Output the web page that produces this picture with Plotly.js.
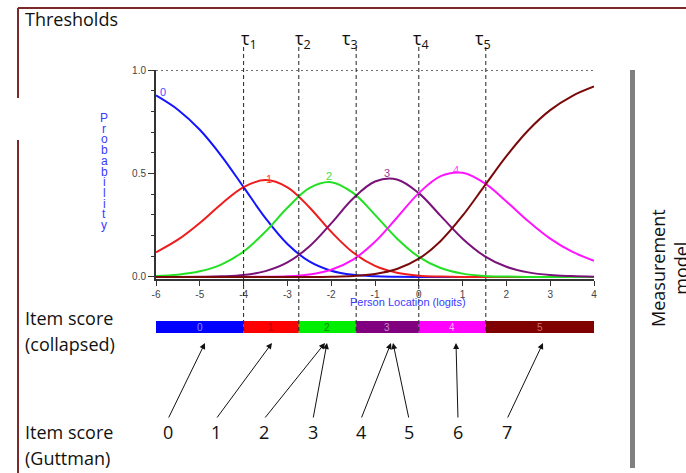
<!DOCTYPE html>
<html>
<head>
<meta charset="utf-8">
<script src="https://cdn.plot.ly/plotly-3.0.1.min.js"></script>
<style>html,body{margin:0;padding:0;background:#fff;}#chart{width:686px;height:473px;}</style>
</head>
<body>
<div id="chart"></div>
<script>
// ---- data ----
const location_logits = [-6,-5.5,-5,-4.5,-4,-3.5,-3,-2.5,-2,-1.5,-1,-0.5,0,0.5,1,1.5,2,2.5,3,3.5,4];
const p0 = [0.877,0.808,0.711,0.583,0.434,0.284,0.159,0.075,0.030,0.010,0.003,0.001,0,0,0,0,0,0,0,0,0];
const p1 = [0.119,0.180,0.261,0.354,0.434,0.468,0.433,0.337,0.218,0.118,0.053,0.020,0.006,0.002,0,0,0,0,0,0,0];
const p2 = [0.005,0.011,0.027,0.061,0.123,0.219,0.334,0.429,0.458,0.406,0.300,0.186,0.097,0.043,0.016,0.005,0.002,0,0,0,0];
const p3 = [0,0,0.001,0.003,0.009,0.028,0.070,0.147,0.259,0.379,0.461,0.471,0.405,0.295,0.185,0.101,0.049,0.022,0.009,0.004,0.001];
const p4 = [0,0,0,0,0,0.001,0.003,0.012,0.035,0.084,0.170,0.286,0.405,0.487,0.503,0.453,0.365,0.269,0.185,0.122,0.078];
const p5 = [0,0,0,0,0,0,0,0,0.001,0.004,0.014,0.038,0.088,0.174,0.296,0.440,0.584,0.709,0.806,0.874,0.920];
const categories = ["0","1","2","3","4","5"];
const thresholds = [-4.0,-2.74,-1.43,0.0,1.53];
const thresholdLabels = ["τ<sub>1</sub>","τ<sub>2</sub>","τ<sub>3</sub>","τ<sub>4</sub>","τ<sub>5</sub>"];
const guttmanScores = ["0","1","2","3","4","5","6","7"];
const xTickVals = [-6,-5,-4,-3,-2,-1,0,1,2,3,4];
const xTickText = ["-6","-5","-4","-3","-2","-1","0","1","2","3","4"];

// ---- styling ----
const W = 686, H = 473;
const px = v => v / W;
const py = v => 1 - v / H;
const curveColors = ["#1414ff","#ee1c1c","#22e022","#7a127a","#ff14ff","#7a0a0a"];
const labelColors = ["#4a4aff","#ff3030","#44dd44","#9a3a9a","#ff44ff","#a04040"];
const barColors = ["#0000ff","#ff0000","#00ee00","#800080","#ff00ff","#800000"];
const barTextColors = ["#8c8cff","#a00000","#008800","#c890c8","#ffb0ff","#c87070"];
const smallFont = "Liberation Sans Narrow, Arial Narrow, Liberation Sans, Arial, sans-serif";
const bigFont = "Open Sans, Liberation Sans, sans-serif";
const bigSize = 18;

const series = [p0,p1,p2,p3,p4,p5];
const traces = series.map((s,i) => ({
  x: location_logits, y: s, type: 'scatter', mode: 'lines',
  line: {color: curveColors[i], width: 2, shape: 'spline', smoothing: 1},
  hoverinfo: 'skip', showlegend: false
}));

const shapes = [];
// maroon frame
shapes.push({type:'line', xref:'paper', yref:'paper', x0:px(18), x1:px(686), y0:py(8), y1:py(8), line:{color:'#7a2a2a', width:2}});
shapes.push({type:'line', xref:'paper', yref:'paper', x0:px(18), x1:px(18), y0:py(8), y1:py(98), line:{color:'#7a2a2a', width:2}});
shapes.push({type:'line', xref:'paper', yref:'paper', x0:px(18), x1:px(18), y0:py(140), y1:py(473), line:{color:'#7a2a2a', width:2}});
// grey bar on right
shapes.push({type:'rect', xref:'paper', yref:'paper', x0:px(630), x1:px(635), y0:py(70), y1:py(468), fillcolor:'#808080', line:{width:0}});
// dotted line at 1.0
shapes.push({type:'line', xref:'x', yref:'y', x0:-6, x1:4, y0:1, y1:1, line:{color:'#444', width:1.5, dash:'2px,3px'}});
// category bar
const edges = [-6].concat(thresholds, [4]);
for (let i = 0; i < categories.length; i++) {
  shapes.push({type:'rect', xref:'x', yref:'paper', x0:edges[i], x1:edges[i+1], y0:py(333), y1:py(321), fillcolor:barColors[i], line:{width:0}, layer:'below'});
}
// threshold lines
thresholds.forEach(t => shapes.push({type:'line', xref:'x', yref:'paper', x0:t, x1:t, y0:py(47), y1:py(334), line:{color:'#222', width:1, dash:'4px,3px'}}));

const annotations = [];
annotations.push({xref:'paper', yref:'paper', x:px(23), y:py(19), text:'Thresholds', showarrow:false, xanchor:'left', yanchor:'middle', font:{family:bigFont, size:bigSize, color:'#111'}});
const tauShift = [5, 4, -6, 2, -3];
thresholds.forEach((t,i) => annotations.push({xref:'x', yref:'paper', x:t, xshift:tauShift[i], y:py(39), text:thresholdLabels[i], showarrow:false, xanchor:'center', yanchor:'middle', font:{family:bigFont, size:bigSize, color:'#111'}}));
// curve labels
const curveLabelPos = [[-5.83,0.895],[-3.43,0.472],[-2.05,0.486],[-0.72,0.5],[0.85,0.515],[4.05,0.93]];
curveLabelPos.forEach((p,i) => annotations.push({xref:'x', yref:'y', x:p[0], y:p[1], text:categories[i], showarrow:false, xanchor:'center', yanchor:'middle', font:{family:smallFont, size:11, color:labelColors[i]}}));
// y title, stacked letters
const yTitle = "Probability";
for (let i = 0; i < yTitle.length; i++) {
  annotations.push({xref:'paper', yref:'paper', x:px(104), y:py(118 + i*10.7), text:yTitle[i], showarrow:false, xanchor:'center', yanchor:'middle', font:{family:smallFont, size:12, color:'#3a3aff'}});
}
// x title
annotations.push({xref:'paper', yref:'paper', x:px(408), y:py(302), text:'Person Location (logits)', showarrow:false, xanchor:'center', yanchor:'middle', font:{family:smallFont, size:11, color:'#3a3aff'}});
// bar labels
for (let i = 0; i < categories.length; i++) {
  annotations.push({xref:'x', yref:'paper', x:(edges[i]+edges[i+1])/2, y:py(327), text:categories[i], showarrow:false, xanchor:'center', yanchor:'middle', font:{family:smallFont, size:10, color:barTextColors[i]}});
}
// left labels
annotations.push({xref:'paper', yref:'paper', x:px(23), y:py(318), text:'Item score', showarrow:false, xanchor:'left', yanchor:'middle', font:{family:bigFont, size:bigSize, color:'#111'}});
annotations.push({xref:'paper', yref:'paper', x:px(23), y:py(344), text:'(collapsed)', showarrow:false, xanchor:'left', yanchor:'middle', font:{family:bigFont, size:bigSize, color:'#111'}});
annotations.push({xref:'paper', yref:'paper', x:px(23), y:py(432), text:'Item score', showarrow:false, xanchor:'left', yanchor:'middle', font:{family:bigFont, size:bigSize, color:'#111'}});
annotations.push({xref:'paper', yref:'paper', x:px(23), y:py(458), text:'(Guttman)', showarrow:false, xanchor:'left', yanchor:'middle', font:{family:bigFont, size:bigSize, color:'#111'}});
// Guttman scores and arrows
const gX = [168,216,264,313,361,409,458,507];
const headX = [205,272,325,327,391,393,456,543];
gX.forEach((gx,i) => {
  annotations.push({xref:'paper', yref:'paper', x:px(gx), y:py(432), text:guttmanScores[i], showarrow:false, xanchor:'center', yanchor:'middle', font:{family:bigFont, size:bigSize, color:'#111'}});
  annotations.push({xref:'paper', yref:'paper', x:px(headX[i]), y:py(343), text:'', showarrow:true, arrowhead:2, arrowsize:1.2, arrowwidth:1, arrowcolor:'#111', ax:gx - headX[i], ay:419-343, standoff:0});
});
// Measurement model
annotations.push({xref:'paper', yref:'paper', x:px(669), y:py(268), text:'Measurement<br>model', textangle:-90, showarrow:false, xanchor:'center', yanchor:'middle', font:{family:bigFont, size:bigSize, color:'#111'}});

const layout = {
  width: W, height: H,
  margin: {l:0, r:0, t:0, b:0},
  paper_bgcolor: '#fff', plot_bgcolor: '#fff',
  showlegend: false,
  xaxis: {
    domain: [px(156), px(594)], range: [-6, 4],
    tickvals: xTickVals, ticktext: xTickText,
    ticks: 'outside', ticklen: 5, tickcolor: '#333',
    showline: true, linecolor: '#333', linewidth: 1.5,
    showgrid: false, zeroline: false,
    tickfont: {family: smallFont, size: 10, color: '#444'}
  },
  yaxis: {
    domain: [py(279), py(70)], range: [-0.01, 1.0],
    tickvals: [0, 0.5, 1], tickformat: '.1f',
    ticks: 'outside', ticklen: 6, tickcolor: '#333',
    minor: {ticks: 'outside', ticklen: 3, tickcolor: '#333', dtick: 0.1, tick0: 0},
    showline: true, linecolor: '#333', linewidth: 2,
    showgrid: false, zeroline: false,
    tickfont: {family: smallFont, size: 10, color: '#444'}
  },
  shapes: shapes,
  annotations: annotations
};

Plotly.newPlot('chart', traces, layout, {displayModeBar: false, staticPlot: true});
</script>
</body>
</html>
